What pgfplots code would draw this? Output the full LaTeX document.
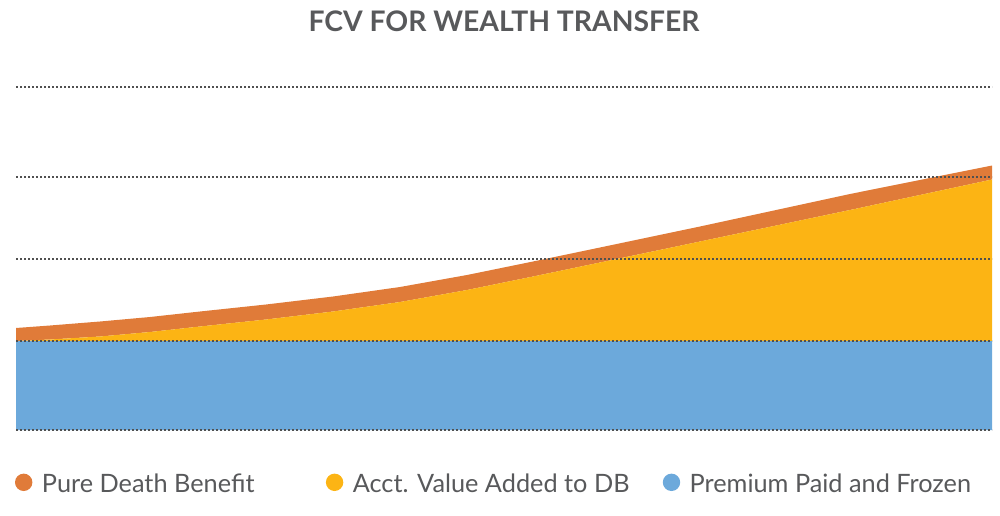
\documentclass[border=0pt]{standalone}
\usepackage{fontspec}
\setmainfont{Lato}
\usepackage{pgfplots}
\usepackage{pgfplotstable}
\pgfplotsset{compat=1.18}

\definecolor{pdbor}{HTML}{E07B39}
\definecolor{acctyel}{HTML}{FCB414}
\definecolor{premblue}{HTML}{6CA9DB}
\definecolor{gridgray}{HTML}{505050}
\definecolor{textgray}{HTML}{58595B}

% x, premium paid, account value added, pure death benefit band
\pgfplotstableread{
x    prem acct  pdb
16   89   0     13
50   89   1.5   14
100  89   4.5   15
150  89   9     15
200  89   14.5  15
266  89   21.5  15
333  89   29.5  15
400  89   39    15
467  89   51    15
533  89   64.5  15
600  89   78.5  15
700  89   99.5  15
850  89   131   16
992  89   161.5 14
}\fcvdata

\begin{document}
\begin{tikzpicture}
\path[use as bounding box] (-16pt,-85pt) rectangle (984pt,430pt);
\begin{axis}[
    at={(0pt,0pt)}, anchor=south west,
    scale only axis,
    width=976pt, height=343pt,
    xmin=16, xmax=992, ymin=0, ymax=343,
    enlargelimits=false,
    stack plots=y,
    axis on top,
    axis line style={draw=none},
    xtick=\empty,
    ytick={0,89,171,253,343},
    yticklabels={},
    major tick length=0pt,
    ymajorgrids,
    grid style={gridgray, line width=2pt, dash pattern=on 2pt off 2pt},
    title={FCV FOR WEALTH TRANSFER},
    title style={font=\bfseries\fontsize{28.3}{34}\selectfont, text=textgray,
        anchor=base, at={(0.5,1)}, yshift=50pt, inner sep=0pt},
    legend columns=3,
    reverse legend,
    legend style={at={(0,0)}, anchor=west, xshift=-1pt, yshift=-54pt,
        draw=none, fill=none, inner sep=0pt, outer sep=0pt,
        font=\fontsize{25.3}{30}\selectfont, text=textgray,
        nodes={inner sep=0pt},
        /tikz/every odd column/.append style={column sep=9.5pt}},
    legend image code/.code={\fill[#1] (8.7pt,2pt) circle (8.7pt);},
]
\addplot[fill=premblue, draw=none] table[x=x, y=prem] {\fcvdata} \closedcycle;
\addlegendentry{Premium Paid and Frozen}
\addplot[fill=acctyel, draw=none] table[x=x, y=acct] {\fcvdata} \closedcycle;
\addlegendentry{\makebox[310pt][l]{Acct. Value Added to DB}}
\addplot[fill=pdbor, draw=none] table[x=x, y=pdb] {\fcvdata} \closedcycle;
\addlegendentry{\makebox[284pt][l]{Pure Death Benefit}}
\end{axis}
\end{tikzpicture}
\end{document}
